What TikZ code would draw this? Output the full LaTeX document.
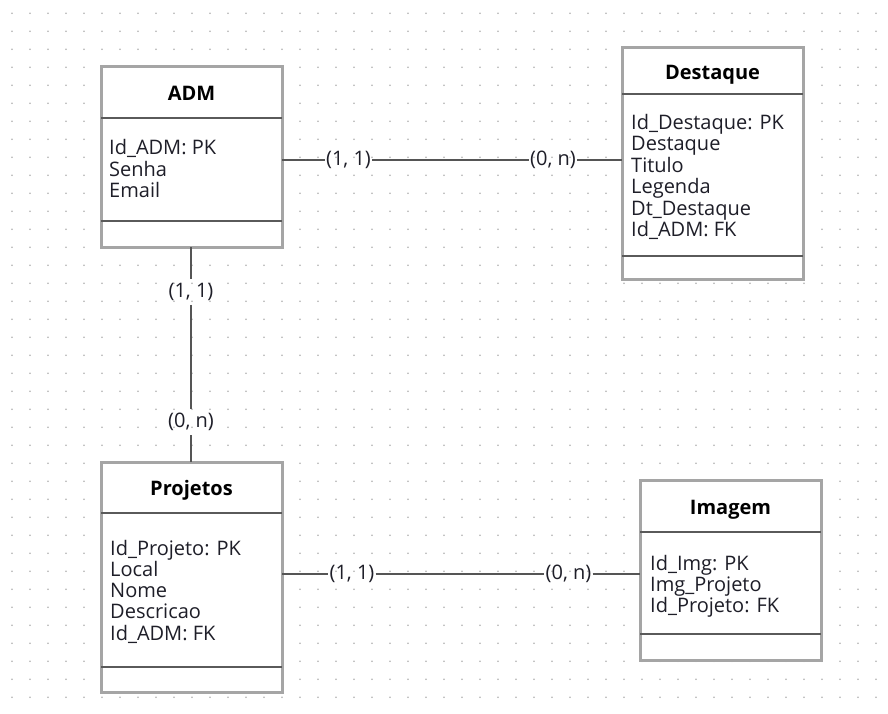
\documentclass[tikz,border=0pt]{standalone}
\usepackage{fontspec}
\setmainfont{Open Sans}
\definecolor{dotc}{RGB}{175,175,175}
\definecolor{boxc}{RGB}{165,165,165}
\definecolor{sepc}{RGB}{90,90,90}
\definecolor{linec}{RGB}{85,85,85}
\definecolor{txtc}{RGB}{30,30,40}
\begin{document}
\begin{tikzpicture}[x=1pt,y=-1pt,
  ent/.style={draw=boxc, line width=3pt, fill=white, inner sep=0pt, outer sep=0pt,
    minimum width=181pt, anchor=north west},
  sepline/.style={draw=sepc, line width=1.5pt},
  title/.style={font=\fontsize{20}{21}\selectfont\bfseries, text=black, inner sep=0pt, anchor=base},
  attr/.style={font=\fontsize{20}{21}\selectfont, text=txtc, inner sep=0pt, anchor=base west},
  card/.style={font=\fontsize{20}{21}\selectfont, text=txtc, inner xsep=1pt, inner ysep=4pt},
  conn/.style={draw=linec, line width=2pt}
]
\useasboundingbox (0,0) rectangle (888,714);
\fill[white] (0,0) rectangle (888,714);
% dot grid
\foreach \i in {0,...,48}
  \foreach \j in {0,...,39}
    \fill[dotc] (12+18*\i, 13.3+18*\j) circle (0.9pt);

% ADM
\node[ent, minimum height=180pt] (adm) at (101,67) {};
\draw[sepline] ([yshift=-51pt]adm.north west) -- ([yshift=-51pt]adm.north east);
\draw[sepline] ([yshift=26pt]adm.south west) -- ([yshift=26pt]adm.south east);
\node[title] (admt) at (191.5,100.5) {ADM};
\foreach \t [count=\k] in {Id\_ADM: PK,Senha,Email}
  \node[attr] (adma\k) at (109,154.5+21.5*\k-21.5) {\t};

% Destaque
\node[ent, minimum height=231pt] (dest) at (622,48) {};
\draw[sepline] ([yshift=-46pt]dest.north west) -- ([yshift=-46pt]dest.north east);
\draw[sepline] ([yshift=23pt]dest.south west) -- ([yshift=23pt]dest.south east);
\node[title] (destt) at (712.5,79.5) {Destaque};
\foreach \t [count=\k] in {Id\_Destaque: PK,Destaque,Titulo,Legenda,Dt\_Destaque,Id\_ADM: FK}
  \node[attr] (desta\k) at (631,129.5+21.4*\k-21.4) {\t};

% Projetos
\node[ent, minimum height=230pt] (proj) at (101,462) {};
\draw[sepline] ([yshift=-51pt]proj.north west) -- ([yshift=-51pt]proj.north east);
\draw[sepline] ([yshift=25pt]proj.south west) -- ([yshift=25pt]proj.south east);
\node[title] (projt) at (191.5,495.5) {Projetos};
\foreach \t [count=\k] in {Id\_Projeto: PK,Local,Nome,Descricao,Id\_ADM: FK}
  \node[attr] (proja\k) at (110,555+21.3*\k-21.3) {\t};

% Imagem
\node[ent, minimum height=180pt] (img) at (640,480) {};
\draw[sepline] ([yshift=-52pt]img.north west) -- ([yshift=-52pt]img.north east);
\draw[sepline] ([yshift=26pt]img.south west) -- ([yshift=26pt]img.south east);
\node[title] (imgt) at (730.5,514) {Imagem};
\foreach \t [count=\k] in {Id\_Img: PK,Img\_Projeto,Id\_Projeto: FK}
  \node[attr] (imga\k) at (650,570+21*\k-21) {\t};

% ADM -- Destaque
\node[card] (c1) at (348.5,160) {(1, 1)};
\node[card] (c2) at (553,160) {(0, n)};
\draw[conn] (adm.east |- c1) -- (c1) -- (c2) -- (dest.west |- c2);

% ADM -- Projetos
\node[card] (c3) at (191,292) {(1, 1)};
\node[card] (c4) at (191,422) {(0, n)};
\draw[conn] (adm.south -| c3) -- (c3) -- (c4) -- (proj.north -| c4);

% Projetos -- Imagem
\node[card] (c5) at (352,574) {(1, 1)};
\node[card] (c6) at (568.5,574) {(0, n)};
\draw[conn] (proj.east |- c5) -- (c5) -- (c6) -- (img.west |- c6);
\end{tikzpicture}
\end{document}
